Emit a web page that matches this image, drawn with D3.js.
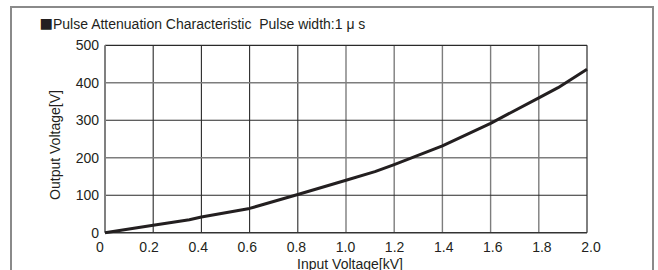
<!DOCTYPE html>
<html>
<head>
<meta charset="utf-8">
<script src="https://cdn.jsdelivr.net/npm/d3@7"></script>
<style>
  html, body { margin: 0; padding: 0; background: #fff; }
  svg { display: block; }
  text { font-family: "Liberation Sans", Arial, sans-serif; fill: #231f20; }
</style>
</head>
<body>
<svg id="chart" width="658" height="270"></svg>
<script>
// ---- data ----
const titleMark = "■";
const titleText = "Pulse Attenuation Characteristic  Pulse width:1 μ s";
const xLabel = "Input Voltage[kV]";
const yLabel = "Output Voltage[V]";
const xTicks = [0, 0.2, 0.4, 0.6, 0.8, 1.0, 1.2, 1.4, 1.6, 1.8, 2.0];
const xTickLabels = ["0", "0.2", "0.4", "0.6", "0.8", "1.0", "1.2", "1.4", "1.6", "1.8", "2.0"];
const yTicks = [0, 100, 200, 300, 400, 500];
const inputKV = [0, 0.2, 0.35, 0.4, 0.6, 0.8, 1.0, 1.12, 1.2, 1.4, 1.6, 1.8, 1.88, 2.0];
const outputV = [0, 20, 35, 42, 65, 102, 140, 163, 182, 232, 292, 360, 387, 436];

// ---- layout ----
const svg = d3.select("#chart");
const plotL = 105, plotR = 587, plotT = 45.3, plotB = 232.8;

const x = d3.scaleLinear().domain([0, 2]).range([plotL, plotR]);
const xLab = d3.scaleLinear().domain([0, 2]).range([100, 591]);
const y = d3.scaleLinear().domain([0, 500]).range([plotB, plotT]);

// outer frame
svg.append("rect")
  .attr("x", 11).attr("y", 7)
  .attr("width", 642).attr("height", 300)
  .attr("fill", "none").attr("stroke", "#8a8a8a").attr("stroke-width", 2);

// title
const title = svg.append("text")
  .attr("x", 39.5).attr("y", 28.5)
  .attr("font-size", 14)
  .style("white-space", "pre");
title.append("tspan")
  .style("font-family", "'Noto Sans CJK JP', 'DejaVu Sans', sans-serif")
  .attr("font-size", 13.5)
  .text(titleMark);
title.append("tspan").text(titleText);

// grid lines
const greyX = new Set([1.0, 1.2, 1.4, 1.6, 1.8]);
const greyY = new Set([200, 400]);
svg.append("g").selectAll("line")
  .data(xTicks.filter(d => d > 0 && d < 2))
  .join("line")
  .attr("x1", d => x(d)).attr("x2", d => x(d))
  .attr("y1", y(500)).attr("y2", y(0))
  .attr("stroke", d => greyX.has(+d.toFixed(1)) ? "#7d7d7d" : "#2a2a2a")
  .attr("stroke-width", d => greyX.has(+d.toFixed(1)) ? 1.4 : 1.1);

svg.append("g").selectAll("line")
  .data(yTicks.filter(d => d > 0 && d < 500))
  .join("line")
  .attr("x1", x(0)).attr("x2", x(2))
  .attr("y1", d => y(d)).attr("y2", d => y(d))
  .attr("stroke", d => greyY.has(d) ? "#7d7d7d" : "#2a2a2a")
  .attr("stroke-width", d => greyY.has(d) ? 1.6 : 1.1);

// plot borders
svg.append("line").attr("x1", x(0)).attr("x2", x(2)).attr("y1", y(500)).attr("y2", y(500))
  .attr("stroke", "#2a2a2a").attr("stroke-width", 1.2);
svg.append("line").attr("x1", x(2)).attr("x2", x(2)).attr("y1", y(500)).attr("y2", y(0))
  .attr("stroke", "#2a2a2a").attr("stroke-width", 1.2);
svg.append("line").attr("x1", x(0)).attr("x2", x(2)).attr("y1", y(0)).attr("y2", y(0))
  .attr("stroke", "#333").attr("stroke-width", 1.6);
svg.append("line").attr("x1", x(0)).attr("x2", x(0)).attr("y1", y(500)).attr("y2", y(0))
  .attr("stroke", "#808080").attr("stroke-width", 2);

// y tick labels
svg.append("g").selectAll("text")
  .data(yTicks)
  .join("text")
  .attr("x", 99)
  .attr("y", d => y(d) + 5)
  .attr("text-anchor", "end")
  .attr("font-size", 14)
  .text(d => d);

// x tick labels
svg.append("g").selectAll("text")
  .data(xTicks)
  .join("text")
  .attr("x", d => xLab(d))
  .attr("y", 251.7)
  .attr("text-anchor", "middle")
  .attr("font-size", 14)
  .text((d, i) => xTickLabels[i]);

// axis titles
svg.append("text")
  .attr("x", 350).attr("y", 268.5)
  .attr("text-anchor", "middle")
  .attr("font-size", 14)
  .text(xLabel);

svg.append("text")
  .attr("transform", "translate(59.5,145) rotate(-90)")
  .attr("text-anchor", "middle")
  .attr("font-size", 14)
  .text(yLabel);

// curve
const pts = inputKV.map((v, i) => [v, outputV[i]]);
const line = d3.line().x(d => x(d[0])).y(d => y(d[1]));
svg.append("path")
  .datum(pts)
  .attr("d", line)
  .attr("fill", "none")
  .attr("stroke", "#231f20")
  .attr("stroke-width", 3)
  .attr("stroke-linejoin", "round")
  .attr("stroke-linecap", "butt");
</script>
</body>
</html>
